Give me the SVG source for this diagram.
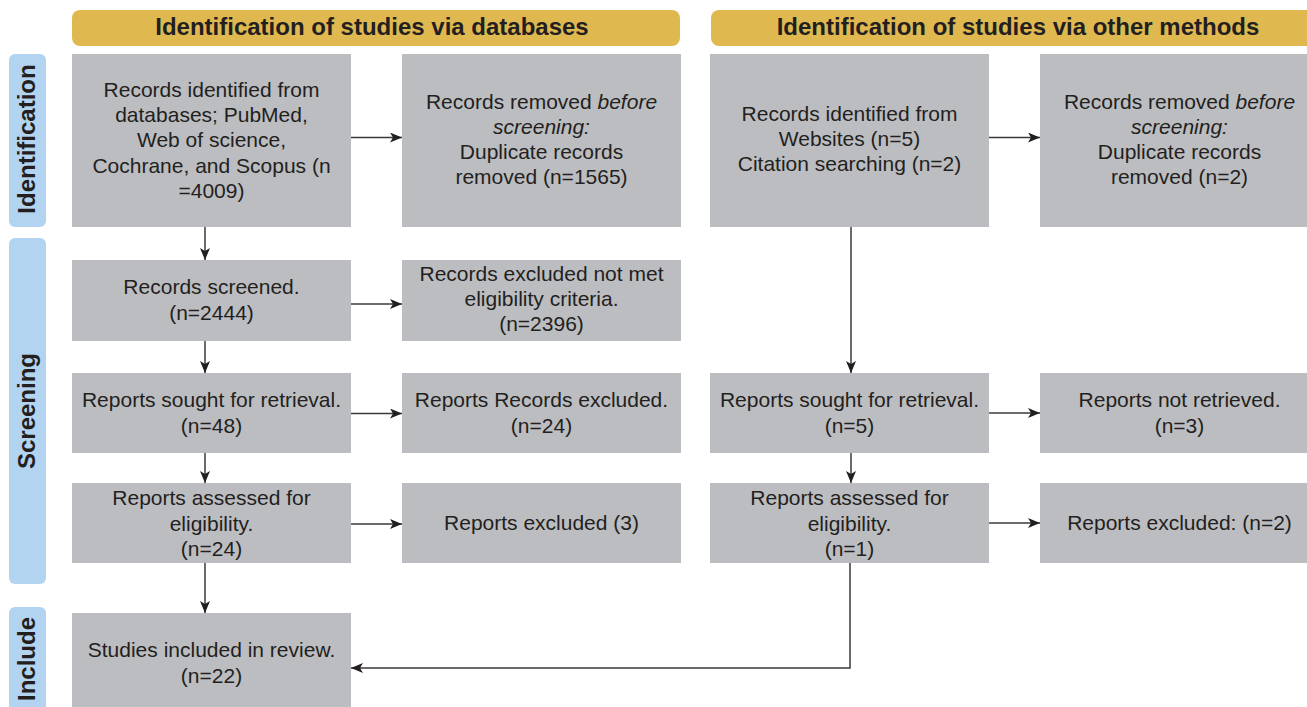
<svg xmlns="http://www.w3.org/2000/svg" width="1307" height="707" viewBox="0 0 1307 707">
<style>
.hdr{fill:#E0B850}
.side{fill:#B3D4F0}
.box{fill:#BCBDC0}
.ht{font-family:"Liberation Sans",Arial,sans-serif;font-weight:bold;font-size:24px;fill:#231F20;text-anchor:middle}
.t{font-family:"Liberation Sans",Arial,sans-serif;font-size:21px;fill:#231F20;text-anchor:middle}
.i{font-style:italic}
.c{fill:none;stroke:#3a3a3a;stroke-width:1.5}
</style>
<defs>
<marker id="ah" markerUnits="userSpaceOnUse" markerWidth="12" markerHeight="10" refX="12" refY="5" orient="auto">
<path d="M0,0 L12,5 L0,10 L3,5 z" fill="#231F20"/>
</marker>
</defs>
<rect width="1307" height="707" fill="#fff"/>

<g id="header-databases">
<rect class="hdr" x="72" y="10" width="608" height="36" rx="8"/>
<text class="ht" x="372" y="35">Identification of studies via databases</text>
</g>
<g id="header-other">
<rect class="hdr" x="711" y="10" width="620" height="36" rx="8"/>
<text class="ht" x="1018" y="35">Identification of studies via other methods</text>
</g>

<g id="label-identification">
<rect class="side" x="9" y="54" width="37" height="173" rx="6"/>
<text class="ht" transform="translate(35,139) rotate(-90)">Identification</text>
</g>
<g id="label-screening">
<rect class="side" x="9" y="238" width="37" height="346" rx="6"/>
<text class="ht" transform="translate(35,411) rotate(-90)">Screening</text>
</g>
<g id="label-include">
<rect class="side" x="9" y="607" width="37" height="120" rx="6"/>
<text class="ht" transform="translate(35,659) rotate(-90)">Include</text>
</g>

<g id="db-identified">
<rect class="box" x="72" y="54" width="279" height="173"/>
<text class="t" x="211.5" y="97">Records identified from</text>
<text class="t" x="211.5" y="122.2">databases; PubMed,</text>
<text class="t" x="211.5" y="147.4">Web of science,</text>
<text class="t" x="211.5" y="172.6">Cochrane, and Scopus (n</text>
<text class="t" x="211.5" y="197.8">=4009)</text>
</g>
<g id="db-removed">
<rect class="box" x="402" y="54" width="279" height="173"/>
<text class="t" x="541.5" y="108.5">Records removed <tspan class="i">before</tspan></text>
<text class="t i" x="541.5" y="133.7">screening:</text>
<text class="t" x="541.5" y="158.9">Duplicate records</text>
<text class="t" x="541.5" y="184.1">removed (n=1565)</text>
</g>
<g id="other-identified">
<rect class="box" x="710" y="54" width="279" height="173"/>
<text class="t" x="849.5" y="121">Records identified from</text>
<text class="t" x="849.5" y="146.2">Websites (n=5)</text>
<text class="t" x="849.5" y="171.4">Citation searching (n=2)</text>
</g>
<g id="other-removed">
<rect class="box" x="1040" y="54" width="279" height="173"/>
<text class="t" x="1179.5" y="108.5">Records removed <tspan class="i">before</tspan></text>
<text class="t i" x="1179.5" y="133.7">screening:</text>
<text class="t" x="1179.5" y="158.9">Duplicate records</text>
<text class="t" x="1179.5" y="184.1">removed (n=2)</text>
</g>

<g id="db-screened">
<rect class="box" x="72" y="260" width="279" height="81"/>
<text class="t" x="211.5" y="293.5">Records screened.</text>
<text class="t" x="211.5" y="319.5">(n=2444)</text>
</g>
<g id="db-excluded">
<rect class="box" x="402" y="260" width="279" height="81"/>
<text class="t" x="541.5" y="281">Records excluded not met</text>
<text class="t" x="541.5" y="306.2">eligibility criteria.</text>
<text class="t" x="541.5" y="331.4">(n=2396)</text>
</g>

<g id="db-sought">
<rect class="box" x="72" y="373" width="279" height="80"/>
<text class="t" x="211.5" y="406.7">Reports sought for retrieval.</text>
<text class="t" x="211.5" y="432.7">(n=48)</text>
</g>
<g id="db-not-retrieved">
<rect class="box" x="402" y="373" width="279" height="80"/>
<text class="t" x="541.5" y="406.7">Reports Records excluded.</text>
<text class="t" x="541.5" y="432.7">(n=24)</text>
</g>
<g id="other-sought">
<rect class="box" x="710" y="373" width="279" height="80"/>
<text class="t" x="849.5" y="406.7">Reports sought for retrieval.</text>
<text class="t" x="849.5" y="432.7">(n=5)</text>
</g>
<g id="other-not-retrieved">
<rect class="box" x="1040" y="373" width="279" height="80"/>
<text class="t" x="1179.5" y="406.7">Reports not retrieved.</text>
<text class="t" x="1179.5" y="432.7">(n=3)</text>
</g>

<g id="db-assessed">
<rect class="box" x="72" y="483" width="279" height="80"/>
<text class="t" x="211.5" y="505">Reports assessed for</text>
<text class="t" x="211.5" y="530.5">eligibility.</text>
<text class="t" x="211.5" y="556">(n=24)</text>
</g>
<g id="db-reports-excluded">
<rect class="box" x="402" y="483" width="279" height="80"/>
<text class="t" x="541.5" y="530">Reports excluded (3)</text>
</g>
<g id="other-assessed">
<rect class="box" x="710" y="483" width="279" height="80"/>
<text class="t" x="849.5" y="505">Reports assessed for</text>
<text class="t" x="849.5" y="530.5">eligibility.</text>
<text class="t" x="849.5" y="556">(n=1)</text>
</g>
<g id="other-reports-excluded">
<rect class="box" x="1040" y="483" width="279" height="80"/>
<text class="t" x="1179.5" y="530">Reports excluded: (n=2)</text>
</g>

<g id="included">
<rect class="box" x="72" y="613" width="279" height="110"/>
<text class="t" x="211.5" y="656.7">Studies included in review.</text>
<text class="t" x="211.5" y="683.3">(n=22)</text>
</g>

<g id="connectors">
<line class="c" x1="351" y1="137.5" x2="402" y2="137.5" marker-end="url(#ah)"/>
<line class="c" x1="989" y1="137.5" x2="1040" y2="137.5" marker-end="url(#ah)"/>
<line class="c" x1="205" y1="227" x2="205" y2="260" marker-end="url(#ah)"/>
<line class="c" x1="351" y1="304" x2="402" y2="304" marker-end="url(#ah)"/>
<line class="c" x1="205" y1="341" x2="205" y2="373" marker-end="url(#ah)"/>
<line class="c" x1="351" y1="413.5" x2="402" y2="413.5" marker-end="url(#ah)"/>
<line class="c" x1="205" y1="453" x2="205" y2="483" marker-end="url(#ah)"/>
<line class="c" x1="351" y1="524" x2="402" y2="524" marker-end="url(#ah)"/>
<line class="c" x1="205" y1="563" x2="205" y2="613" marker-end="url(#ah)"/>
<line class="c" x1="851" y1="227" x2="851" y2="373" marker-end="url(#ah)"/>
<line class="c" x1="989" y1="413" x2="1040" y2="413" marker-end="url(#ah)"/>
<line class="c" x1="851" y1="453" x2="851" y2="483" marker-end="url(#ah)"/>
<line class="c" x1="989" y1="523" x2="1040" y2="523" marker-end="url(#ah)"/>
<polyline class="c" points="850,563 850,668 351,668" marker-end="url(#ah)"/>
</g>
</svg>
